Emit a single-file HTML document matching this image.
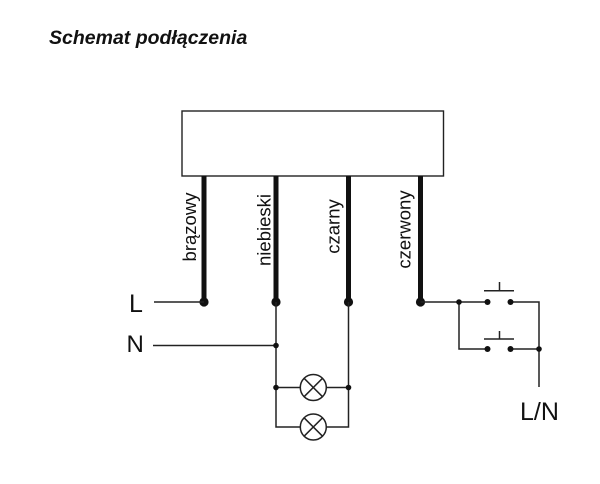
<!DOCTYPE html>
<html>
<head>
<meta charset="utf-8">
<style>
  html, body { margin:0; padding:0; background:#fff; }
  body { width:600px; height:484px; overflow:hidden; }
  svg { display:block; }
  text { font-family: "Liberation Sans", Arial, sans-serif; fill:#111; }
</style>
</head>
<body>
<svg width="600" height="484" viewBox="0 0 600 484" xmlns="http://www.w3.org/2000/svg">
  <rect width="600" height="484" fill="#fff"/>
  <!-- Title -->
  <text x="49" y="44" font-size="19.5" font-weight="bold" font-style="italic">Schemat podłączenia</text>

  <!-- Module box -->
  <rect x="182" y="111" width="261.5" height="65" fill="none" stroke="#222" stroke-width="1.4"/>

  <!-- Thick wires -->
  <g stroke="#111" stroke-width="5" fill="none">
    <line x1="204" y1="176" x2="204" y2="302"/>
    <line x1="276" y1="176" x2="276" y2="302"/>
    <line x1="348.5" y1="176" x2="348.5" y2="302"/>
    <line x1="420.5" y1="176" x2="420.5" y2="302"/>
  </g>
  <g fill="#111">
    <circle cx="204" cy="302" r="4.6"/>
    <circle cx="276" cy="302" r="4.6"/>
    <circle cx="348.5" cy="302" r="4.6"/>
    <circle cx="420.5" cy="302" r="4.6"/>
  </g>

  <!-- Wire labels (rotated) -->
  <g font-size="18.5" text-anchor="middle">
    <text transform="translate(196,227) rotate(-90)">brązowy</text>
    <text transform="translate(270.5,230) rotate(-90)">niebieski</text>
    <text transform="translate(339.5,226.5) rotate(-90)">czarny</text>
    <text transform="translate(410.5,229.5) rotate(-90)">czerwony</text>
  </g>

  <!-- Thin wiring -->
  <g stroke="#222" stroke-width="1.5" fill="none">
    <line x1="154" y1="302" x2="204" y2="302"/>
    <line x1="153" y1="345.5" x2="276" y2="345.5"/>
    <polyline points="276,302 276,427 300,427"/>
    <polyline points="348.5,302 348.5,427 326.5,427"/>
    <line x1="276" y1="387.5" x2="300" y2="387.5"/>
    <line x1="326.5" y1="387.5" x2="348.5" y2="387.5"/>
    <circle cx="313.3" cy="387.5" r="13"/>
    <circle cx="313.3" cy="427" r="13"/>
    <line x1="304.1" y1="378.3" x2="322.5" y2="396.7"/>
    <line x1="322.5" y1="378.3" x2="304.1" y2="396.7"/>
    <line x1="304.1" y1="417.8" x2="322.5" y2="436.2"/>
    <line x1="322.5" y1="417.8" x2="304.1" y2="436.2"/>

    <line x1="420.5" y1="302" x2="487.5" y2="302"/>
    <polyline points="459,302 459,349 487.5,349"/>
    <polyline points="510.5,302 539,302 539,387"/>
    <line x1="510.5" y1="349" x2="539" y2="349"/>
    <line x1="484" y1="290.7" x2="514" y2="290.7"/>
    <line x1="499.5" y1="282" x2="499.5" y2="290.7"/>
    <line x1="484" y1="339" x2="514" y2="339"/>
    <line x1="499.5" y1="331" x2="499.5" y2="339"/>
  </g>

  <!-- small dots -->
  <g fill="#111">
    <circle cx="276" cy="345.5" r="2.8"/>
    <circle cx="276" cy="387.5" r="2.8"/>
    <circle cx="348.5" cy="387.5" r="2.8"/>
    <circle cx="459" cy="302" r="2.8"/>
    <circle cx="487.5" cy="302" r="3"/>
    <circle cx="510.5" cy="302" r="3"/>
    <circle cx="487.5" cy="349" r="3"/>
    <circle cx="510.5" cy="349" r="3"/>
    <circle cx="539" cy="349" r="2.8"/>
  </g>

  <!-- Terminal labels -->
  <text x="129" y="312" font-size="25">L</text>
  <text x="126.5" y="352" font-size="24">N</text>
  <text x="520" y="420" font-size="25">L/N</text>
</svg>
</body>
</html>
